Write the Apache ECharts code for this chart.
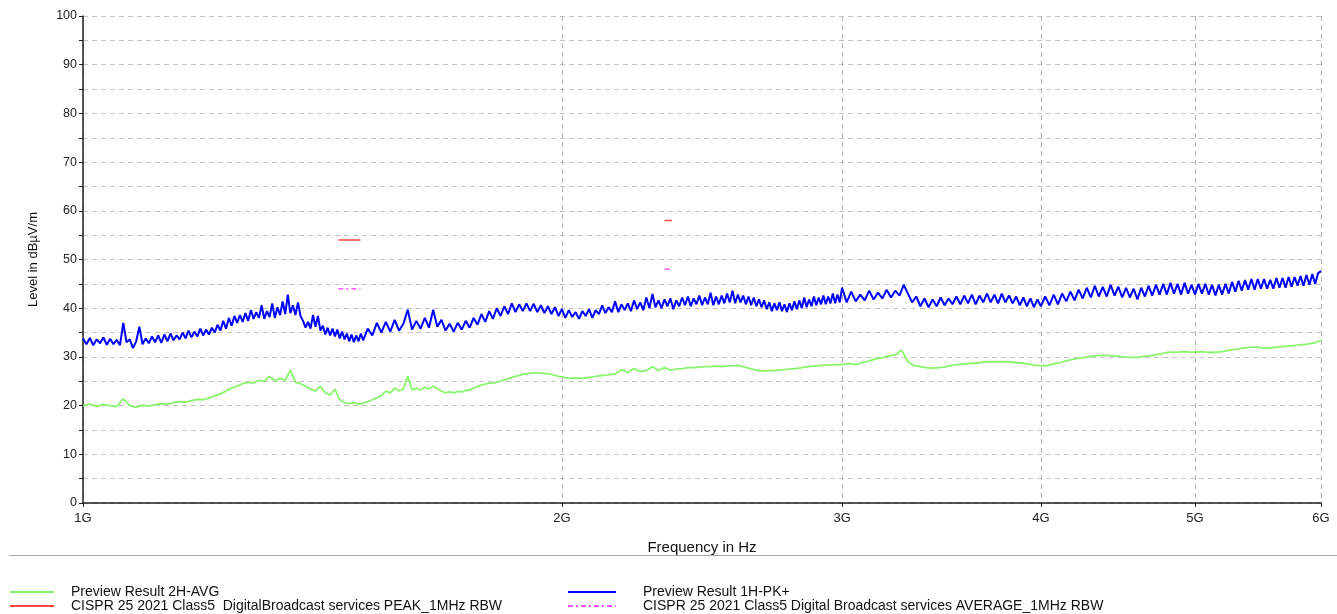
<!DOCTYPE html>
<html>
<head>
<meta charset="utf-8">
<script src="https://cdn.jsdelivr.net/npm/echarts@6/dist/echarts.min.js"></script>
<style>
  html, body { margin: 0; padding: 0; background: #fff; }
  #emiChart { width: 1337px; height: 614px; }
</style>
</head>
<body>
<div id="emiChart"></div>
<script>
// 2H-AVG sweep frequencies in GHz
const freqAvg = [
  1.00, 1.01, 1.02, 1.03, 1.04, 1.05, 1.06, 1.07, 1.08, 1.09,
  1.10, 1.11, 1.12, 1.13, 1.14, 1.15, 1.16, 1.17, 1.18, 1.19,
  1.20, 1.21, 1.22, 1.23, 1.24, 1.25, 1.26, 1.27, 1.28, 1.29,
  1.30, 1.31, 1.32, 1.33, 1.34, 1.35, 1.36, 1.37, 1.38, 1.39,
  1.40, 1.41, 1.42, 1.43, 1.44, 1.45, 1.46, 1.47, 1.48, 1.49,
  1.50, 1.51, 1.52, 1.53, 1.54, 1.55, 1.56, 1.57, 1.58, 1.59,
  1.60, 1.61, 1.62, 1.63, 1.64, 1.65, 1.66, 1.67, 1.68, 1.69,
  1.70, 1.71, 1.72, 1.73, 1.74, 1.75, 1.76, 1.77, 1.78, 1.79,
  1.80, 1.81, 1.82, 1.83, 1.84, 1.85, 1.86, 1.87, 1.88, 1.89,
  1.90, 1.91, 1.92, 1.93, 1.94, 1.95, 1.96, 1.97, 1.98, 1.99,
  2.00,
  2.02, 2.04, 2.06, 2.08, 2.10, 2.12, 2.14, 2.16, 2.18, 2.20,
  2.22, 2.24, 2.26, 2.28, 2.30, 2.32, 2.34, 2.36, 2.38, 2.40,
  2.42, 2.44, 2.46, 2.48, 2.50, 2.52, 2.54, 2.56, 2.58, 2.60,
  2.62, 2.64, 2.66, 2.68, 2.70, 2.72, 2.74, 2.76, 2.78, 2.80,
  2.82, 2.84, 2.86, 2.88, 2.90, 2.92, 2.94, 2.96, 2.98, 3.00,
  3.03, 3.06, 3.09, 3.12, 3.15, 3.18, 3.21, 3.24, 3.27, 3.30,
  3.33, 3.36, 3.39, 3.42, 3.45, 3.48, 3.51, 3.54, 3.57, 3.60,
  3.63, 3.66, 3.69, 3.72, 3.75, 3.78, 3.81, 3.84, 3.87, 3.90,
  3.93, 3.96, 3.99,
  4.00, 4.04, 4.08, 4.12, 4.16, 4.20, 4.24, 4.28, 4.32, 4.36,
  4.40, 4.44, 4.48, 4.52, 4.56, 4.60, 4.64, 4.68, 4.72, 4.76,
  4.80, 4.84, 4.88, 4.92, 4.96, 5.00, 5.04, 5.08, 5.12, 5.16,
  5.20, 5.24, 5.28, 5.32, 5.36, 5.40, 5.44, 5.48, 5.52, 5.56,
  5.60, 5.64, 5.68, 5.72, 5.76, 5.80, 5.84, 5.88, 5.92, 5.96,
  6.00
];

// Preview Result 2H-AVG (dBuV/m)
const avg2H = [
  20.0, 20.3, 19.9, 20.2, 20.0, 19.8, 21.4, 20.0, 19.7, 20.1,
  19.9, 20.2, 20.4, 20.3, 20.6, 20.8, 20.7, 21.0, 21.3, 21.2,
  21.6, 22.0, 22.4, 23.0, 23.6, 24.0, 24.5, 24.8, 24.6, 25.2,
  25.0, 26.0, 25.1, 25.6, 25.2, 27.3, 24.8, 24.5, 24.0, 23.4,
  23.0, 24.0, 22.6, 22.2, 23.4, 21.2, 20.6, 20.4, 20.6, 20.3,
  20.5, 20.8, 21.2, 21.6, 22.0, 23.0, 22.6, 23.6, 23.0, 23.4,
  26.0, 23.2, 23.6, 23.2, 23.8, 23.4, 24.0, 23.5, 23.0, 22.6,
  22.8, 22.6, 22.9, 22.8, 23.1, 23.2, 23.6, 23.9, 24.2, 24.4,
  24.6, 24.6, 24.8, 25.0, 25.3, 25.5, 25.8, 26.0, 26.2, 26.4,
  26.5, 26.6, 26.7, 26.7, 26.6, 26.6, 26.5, 26.4, 26.2, 26.0,
  25.9,
  25.6, 25.7, 25.6, 25.8, 26.0, 26.2, 26.3, 26.5, 27.4, 26.8,
  27.6, 27.0, 27.2, 28.0, 27.2, 27.8, 27.3, 27.5, 27.6, 27.8,
  27.8, 27.9, 28.0, 28.0, 28.1, 28.0, 28.1, 28.2, 28.2, 28.0,
  27.7, 27.4, 27.2, 27.1, 27.2, 27.2, 27.3, 27.4, 27.5, 27.6,
  27.7, 27.9, 28.0, 28.1, 28.2, 28.3, 28.3, 28.4, 28.4, 28.4,
  28.6, 28.4, 28.8, 29.2, 29.6, 29.8, 30.2, 30.4, 31.4, 29.0,
  28.2, 28.0, 27.8, 27.7, 27.8, 27.9, 28.2, 28.4, 28.5, 28.6,
  28.7, 28.8, 29.0, 29.0, 29.0, 29.0, 29.0, 28.9, 28.8, 28.7,
  28.5, 28.3, 28.2,
  28.3, 28.2, 28.6, 28.9, 29.3, 29.6, 29.8, 30.0, 30.2, 30.3,
  30.3, 30.2, 30.1, 30.0, 29.9, 29.9, 30.1, 30.2, 30.4, 30.6,
  30.9, 31.0, 31.0, 31.1, 31.0, 31.0, 31.1, 31.0, 30.9, 31.0,
  31.1, 31.3, 31.5, 31.6, 31.8, 31.9, 32.0, 32.0, 31.8, 31.8,
  31.9, 32.0, 32.1, 32.2, 32.3, 32.4, 32.5, 32.6, 32.8, 33.0,
  33.4
];

// 1H-PK+ sweep frequencies in GHz
const freqPk = [
  1.000, 1.005, 1.010, 1.015, 1.020, 1.025, 1.030, 1.035, 1.040, 1.045,
  1.050, 1.055, 1.060, 1.065, 1.070, 1.075, 1.080, 1.085, 1.090, 1.095,
  1.100, 1.105, 1.110, 1.115, 1.120, 1.125, 1.130, 1.135, 1.140, 1.145,
  1.150, 1.155, 1.160, 1.165, 1.170, 1.175, 1.180, 1.185, 1.190, 1.195,
  1.200, 1.205, 1.210, 1.215, 1.220, 1.225, 1.230, 1.235, 1.240, 1.245,
  1.250, 1.255, 1.260, 1.265, 1.270, 1.275, 1.280, 1.285, 1.290, 1.295,
  1.300, 1.305, 1.310, 1.315, 1.320, 1.325, 1.330, 1.335, 1.340, 1.345,
  1.350, 1.355, 1.360, 1.365, 1.370, 1.375, 1.380, 1.385, 1.390, 1.395,
  1.400, 1.405, 1.410, 1.415, 1.420, 1.425, 1.430, 1.435, 1.440, 1.445,
  1.450, 1.455, 1.460, 1.465, 1.470, 1.475, 1.480, 1.485, 1.490, 1.495,
  1.500,
  1.51, 1.52, 1.53, 1.54, 1.55, 1.56, 1.57, 1.58, 1.59,
  1.60, 1.61, 1.62, 1.63, 1.64, 1.65, 1.66, 1.67, 1.68, 1.69,
  1.70, 1.71, 1.72, 1.73, 1.74, 1.75, 1.76, 1.77, 1.78, 1.79,
  1.80, 1.81, 1.82, 1.83, 1.84, 1.85, 1.86, 1.87, 1.88, 1.89,
  1.90, 1.91, 1.92, 1.93, 1.94, 1.95, 1.96, 1.97, 1.98, 1.99,
  2.00,
  2.01, 2.02, 2.03, 2.04, 2.05, 2.06, 2.07, 2.08, 2.09, 2.10,
  2.11, 2.12, 2.13, 2.14, 2.15, 2.16, 2.17, 2.18, 2.19, 2.20,
  2.21, 2.22, 2.23, 2.24, 2.25, 2.26, 2.27, 2.28, 2.29, 2.30,
  2.31, 2.32, 2.33, 2.34, 2.35, 2.36, 2.37, 2.38, 2.39, 2.40,
  2.41, 2.42, 2.43, 2.44, 2.45, 2.46, 2.47, 2.48, 2.49, 2.50,
  2.51, 2.52, 2.53, 2.54, 2.55, 2.56, 2.57, 2.58, 2.59, 2.60,
  2.61, 2.62, 2.63, 2.64, 2.65, 2.66, 2.67, 2.68, 2.69, 2.70,
  2.71, 2.72, 2.73, 2.74, 2.75, 2.76, 2.77, 2.78, 2.79, 2.80,
  2.81, 2.82, 2.83, 2.84, 2.85, 2.86, 2.87, 2.88, 2.89, 2.90,
  2.91, 2.92, 2.93, 2.94, 2.95, 2.96, 2.97, 2.98, 2.99, 3.00,
  3.02, 3.04, 3.06, 3.08, 3.10, 3.12, 3.14, 3.16, 3.18, 3.20,
  3.22, 3.24, 3.26, 3.28, 3.30, 3.32, 3.34, 3.36, 3.38, 3.40,
  3.42, 3.44, 3.46, 3.48, 3.50, 3.52, 3.54, 3.56, 3.58, 3.60,
  3.62, 3.64, 3.66, 3.68, 3.70, 3.72, 3.74, 3.76, 3.78, 3.80,
  3.82, 3.84, 3.86, 3.88, 3.90, 3.92, 3.94, 3.96, 3.98, 4.00,
  4.025, 4.050, 4.075, 4.100, 4.125, 4.150, 4.175, 4.200, 4.225, 4.250,
  4.275, 4.300, 4.325, 4.350, 4.375, 4.400, 4.425, 4.450, 4.475, 4.500,
  4.525, 4.550, 4.575, 4.600, 4.625, 4.650, 4.675, 4.700, 4.725, 4.750,
  4.775, 4.800, 4.825, 4.850, 4.875, 4.900, 4.925, 4.950, 4.975, 5.000,
  5.025, 5.050, 5.075, 5.100, 5.125, 5.150, 5.175, 5.200, 5.225, 5.250,
  5.275, 5.300, 5.325, 5.350, 5.375, 5.400, 5.425, 5.450, 5.475, 5.500,
  5.525, 5.550, 5.575, 5.600, 5.625, 5.650, 5.675, 5.700, 5.725, 5.750,
  5.775, 5.800, 5.825, 5.850, 5.875, 5.900, 5.925, 5.950, 5.975, 6.000
];

// Preview Result 1H-PK+ (dBuV/m)
const pk1H = [
  33.8, 32.6, 33.9, 32.4, 33.6, 32.8, 34.0, 32.5, 33.7, 32.6,
  33.5, 32.4, 37.0, 33.0, 33.6, 31.8, 33.2, 36.2, 32.6, 33.8,
  32.8, 34.2, 33.0, 34.4, 32.9, 34.6, 33.2, 34.8, 33.4, 34.4,
  33.6, 35.0, 33.8, 35.4, 34.0, 35.2, 34.2, 35.8, 34.4, 35.6,
  34.6, 36.0, 35.0, 36.6, 35.4, 37.4, 35.8, 38.0, 36.4, 38.4,
  37.0, 38.6, 37.2, 39.0, 37.4, 39.6, 37.8, 39.2, 38.0, 40.6,
  37.8, 39.4, 38.2, 41.0, 38.0, 40.2, 38.6, 41.4, 38.8, 42.8,
  39.0, 40.6, 38.6, 41.2, 38.4, 37.4, 36.0, 37.2, 35.8, 38.6,
  36.2, 38.4, 35.4, 36.4, 34.6, 36.0, 34.4, 35.8, 34.2, 35.6,
  33.8, 35.2, 33.6, 34.8, 33.2, 34.6, 33.0, 34.4, 33.2, 34.8,
  33.4,
  35.8, 34.4, 37.0, 35.0, 37.2, 35.2, 37.6, 35.4, 36.8,
  39.7, 35.6, 37.4, 35.8, 38.0, 36.0, 39.7, 36.2, 37.6, 35.4,
  36.8, 35.2, 37.0, 35.6, 37.4, 36.0, 38.0, 36.6, 38.8, 37.2,
  39.4, 37.8, 40.0, 38.4, 40.4, 38.8, 41.0, 39.2, 40.8, 39.4,
  41.0, 39.4, 40.9, 39.2, 40.6, 39.0, 40.4, 38.8, 40.2, 38.4,
  39.8,
  38.0, 39.6, 38.2, 39.2, 37.8, 39.4, 38.4, 39.8, 38.0, 39.6,
  38.8, 40.6, 39.0, 40.2, 39.2, 41.4, 39.2, 40.8, 39.6, 41.0,
  39.4, 41.6, 39.8, 41.2, 39.6, 42.2, 40.0, 42.9, 40.2, 41.6,
  40.0, 41.8, 40.4, 42.0, 39.8, 41.6, 40.4, 42.2, 40.6, 42.4,
  40.4, 42.0, 40.8, 42.6, 40.6, 42.2, 40.8, 43.2, 40.6, 42.4,
  40.8, 42.6, 41.0, 43.0, 41.2, 43.6, 41.0, 42.8, 41.2, 42.6,
  40.8, 42.4, 40.6, 42.2, 40.4, 41.8, 40.2, 41.6, 39.8, 41.2,
  39.4, 41.0, 39.6, 41.2, 39.4, 40.8, 39.2, 41.0, 39.6, 41.4,
  39.8, 41.6, 40.0, 42.2, 40.2, 41.8, 40.4, 42.4, 40.6, 42.2,
  40.8, 42.6, 40.8, 42.4, 41.0, 43.0, 41.0, 42.8, 41.2, 44.2,
  41.2, 43.4, 41.4, 42.8, 41.6, 43.6, 41.8, 43.2, 42.0, 43.8,
  42.2, 43.6, 42.6, 44.8, 43.0, 41.2, 42.4, 40.4, 42.0, 40.2,
  41.8, 40.4, 42.2, 40.6, 42.0, 40.8, 42.4, 40.8, 42.6, 41.0,
  42.8, 40.8, 42.6, 41.2, 43.0, 41.2, 42.8, 41.0, 43.0, 41.2,
  42.6, 41.0, 42.4, 40.6, 42.2, 40.4, 42.0, 40.2, 41.8, 40.4,
  42.4, 40.6, 42.8, 40.8, 43.0, 41.4, 43.4, 41.6, 43.8, 42.0,
  44.2, 42.2, 44.6, 42.4, 44.4, 42.4, 44.8, 42.6, 44.4, 42.2,
  44.2, 42.2, 44.0, 41.8, 44.2, 42.4, 44.6, 42.6, 44.8, 42.8,
  45.0, 42.8, 45.2, 43.0, 45.0, 42.8, 45.2, 43.0, 44.8, 42.8,
  45.0, 43.0, 45.0, 42.8, 44.8, 42.6, 44.8, 42.8, 45.0, 43.0,
  45.4, 43.4, 45.6, 43.6, 45.8, 43.8, 46.0, 43.8, 46.0, 44.0,
  46.0, 44.0, 45.8, 44.0, 46.2, 44.2, 46.2, 44.2, 46.4, 44.4,
  46.4, 44.6, 46.6, 44.6, 46.8, 44.8, 47.0, 45.0, 47.2, 47.6
];

// CISPR 25 limit bands (GHz) and limits (dBuV/m)
const limitBands = [[1.447, 1.494], [2.320, 2.345]];
const peakLimits = [54, 58];
const avgLimits = [44, 48];

const xTicks = [1, 2, 3, 4, 5, 6];

const NAME_AVG = 'Preview Result 2H-AVG';
const NAME_PK = 'Preview Result 1H-PK+';
const NAME_LIM_PK = 'CISPR 25 2021 Class5  DigitalBroadcast services PEAK_1MHz RBW';
const NAME_LIM_AV = 'CISPR 25 2021 Class5 Digital Broadcast services AVERAGE_1MHz RBW';

const limitData = levels => {
  const out = [];
  limitBands.forEach((band, i) => {
    if (i > 0) out.push([(limitBands[i - 1][1] + band[0]) / 2, '-']);
    out.push([band[0], levels[i]], [band[1], levels[i]]);
  });
  return out;
};

const FONT = 'Liberation Sans, Arial, sans-serif';
const gridLine = { show: true, lineStyle: { color: '#c4c4c4', type: [5, 4], width: 1 } };

const legendBase = {
  top: 585, orient: 'vertical', padding: 0,
  itemHeight: 14, itemGap: 0,
  selectedMode: false,
  itemStyle: { opacity: 0 }
};

const chartDom = document.getElementById('emiChart');
const myChart = echarts.init(chartDom, null, { renderer: 'canvas' });

const option = {
  animation: false,
  backgroundColor: '#fff',
  textStyle: { fontFamily: FONT },
  grid: { left: 83, right: 16, top: 16, bottom: 111, containLabel: false },
  legend: [
    Object.assign({}, legendBase, {
      left: 9, itemWidth: 44,
      textStyle: { fontSize: 14, lineHeight: 14, color: '#111', fontFamily: FONT, padding: [0, 0, 0, 12] },
      data: [NAME_AVG, NAME_LIM_PK]
    }),
    Object.assign({}, legendBase, {
      left: 567, itemWidth: 48,
      textStyle: { fontSize: 14, lineHeight: 14, color: '#111', fontFamily: FONT, padding: [0, 0, 0, 22] },
      data: [NAME_PK, NAME_LIM_AV]
    })
  ],
  graphic: [
    {
      type: 'line', silent: true,
      shape: { x1: 9, y1: 555.5, x2: 1337, y2: 555.5 },
      style: { stroke: '#a8a8a8', lineWidth: 1 }
    }
  ],
  xAxis: {
    type: 'log',
    logBase: 10,
    min: 1,
    max: 6,
    name: 'Frequency in Hz',
    nameLocation: 'middle',
    nameGap: 37,
    nameTextStyle: { fontSize: 15, color: '#111', fontFamily: FONT },
    axisLine: { show: true, lineStyle: { color: '#222', width: 1.5 } },
    axisTick: { show: true, length: 4, customValues: xTicks, lineStyle: { color: '#222' } },
    axisLabel: {
      customValues: xTicks,
      margin: 9,
      fontSize: 13,
      color: '#222',
      fontFamily: FONT,
      formatter: v => Math.round(v) + 'G'
    },
    splitLine: { show: true, lineStyle: { color: '#b4b4b4', type: [5, 4], width: 1 } },
    minorTick: { show: false },
    minorSplitLine: { show: false }
  },
  yAxis: {
    type: 'value',
    min: 0,
    max: 100,
    interval: 10,
    name: 'Level in dB\u00b5V/m',
    nameLocation: 'middle',
    nameGap: 43,
    nameRotate: 90,
    nameTextStyle: { fontSize: 13, color: '#111', fontFamily: FONT },
    axisLine: { show: true, lineStyle: { color: '#222', width: 1.5 } },
    axisTick: { show: true, length: 4, lineStyle: { color: '#222' } },
    minorTick: { show: true, splitNumber: 2, length: 4, lineStyle: { color: '#222' } },
    axisLabel: { fontSize: 12.5, color: '#222', margin: 6, fontFamily: FONT },
    splitLine: gridLine,
    minorSplitLine: gridLine
  },
  series: [
    {
      name: NAME_AVG,
      type: 'line',
      symbol: 'none',
      data: freqAvg.map((f, i) => [f, avg2H[i]]),
      lineStyle: { color: '#88f56c', width: 1.8 },
      itemStyle: { color: '#88f56c' },
      z: 3
    },
    {
      name: NAME_LIM_PK,
      type: 'line',
      symbol: 'none',
      data: limitData(peakLimits),
      lineStyle: { color: '#ff4646', width: 1.6 },
      itemStyle: { color: '#ff4646' },
      z: 4
    },
    {
      name: NAME_PK,
      type: 'line',
      symbol: 'none',
      data: freqPk.map((f, i) => [f, pk1H[i]]),
      lineStyle: { color: '#0000ff', width: 2 },
      itemStyle: { color: '#0000ff' },
      z: 3
    },
    {
      name: NAME_LIM_AV,
      type: 'line',
      symbol: 'none',
      data: limitData(avgLimits),
      lineStyle: { color: '#ff55ff', width: 1.6, type: [5, 3, 2, 3] },
      itemStyle: { color: '#ff55ff' },
      z: 4
    }
  ]
};

option && myChart.setOption(option);
</script>
</body>
</html>
